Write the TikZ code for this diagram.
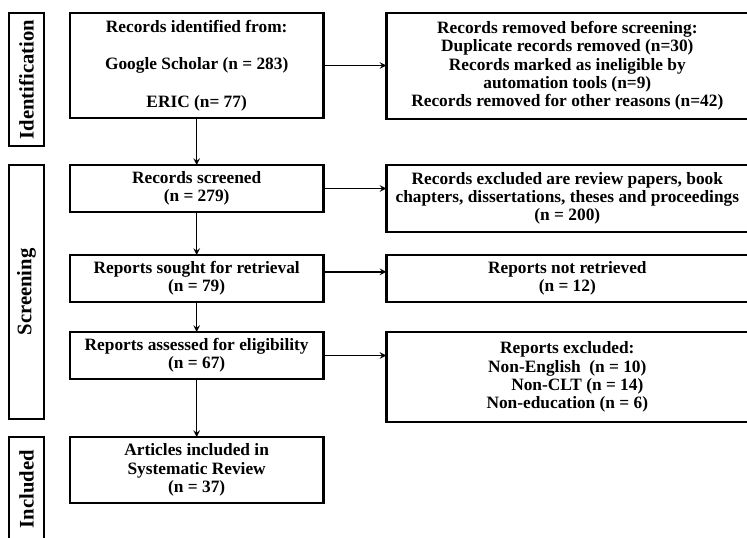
\documentclass[tikz,border=0pt]{standalone}
\usepackage{fontspec}
\setmainfont{Liberation Serif}
\usepackage{graphicx}
\usetikzlibrary{arrows,positioning}
\tikzstyle{process} = [rectangle, minimum width=190pt, minimum height=35.25pt, inner sep=0pt, outer sep=0pt, align=center, draw=black, line width=2pt, font=\fontsize{13}{13.7}\selectfont\bfseries]
\tikzstyle{removal} = [process, minimum width=271.5pt]
\tikzstyle{stage} = [rectangle, minimum width=26.25pt, inner sep=0pt, outer sep=0pt, draw=black, line width=2pt, font=\fontsize{15.5}{17}\selectfont\bfseries]
\tikzstyle{arrow} = [line width=1.2pt,->,>=stealth]

\begin{document}
\begin{tikzpicture}[x=0.75pt, y=-0.75pt, node distance=47.25pt]
   \useasboundingbox (0,0) rectangle (747,537);
   \node (ident) [process, minimum height=78.75pt, anchor=north west] at (70,13) {Records identified  from:\\[14.5pt]Google Scholar (n = 283)\\[14.5pt]ERIC (n= 77)};
   \node (screened) [process, below=35.25pt of ident] {Records screened\\(n = 279)};
   \node (sought) [process, below=32.25pt of screened] {Reports sought for retrieval\\(n = 79)};
   \node (assessed) [process, below=22.5pt of sought] {Reports assessed for eligibility\\(n = 67)};
   \node (included) [process, minimum height=49.5pt, below=43.5pt of assessed] {Articles included in\\Systematic Review\\(n = 37)};
   \node (removed) [removal, minimum height=79.5pt, right=of ident.north east, anchor=north west] {Records removed before screening:\\Duplicate records removed (n=30)\\Records marked as ineligible by\\automation tools (n=9)\\Records removed for other reasons (n=42)};
   \node (excluded) [removal, minimum height=50.25pt, right=of screened.north east, anchor=north west] {Records excluded are review papers, book\\chapters, dissertations, theses and proceedings\\(n = 200)};
   \node (notretrieved) [removal, right=of sought.north east, anchor=north west] {Reports not retrieved\\(n = 12)};
   \node (repexcluded) [removal, minimum height=67.5pt, right=of assessed.north east, anchor=north west] {Reports excluded:\\Non-English~ (n = 10)\\\hspace*{15pt}Non-CLT (n = 14)\\Non-education (n = 6)};
   \node (identification) [stage, minimum height=99.75pt, left=19.5pt of ident.north west, anchor=north east] {\rotatebox{90}{Identification}};
   \node (screening) [stage, minimum height=190.5pt, left=19.5pt of screened.north west, anchor=north east] {\rotatebox{90}{Screening}};
   \node (inclusion) [stage, minimum height=78pt, left=19.5pt of included.north west, anchor=north east] {\rotatebox{90}{Included}};
   \draw [arrow] (ident) -- (screened);
   \draw [arrow] (screened) -- (sought);
   \draw [arrow] (sought) -- (assessed);
   \draw [arrow] (assessed) -- (included);
   \draw [arrow] (ident.east) -- (ident.east -| removed.west);
   \draw [arrow] (screened.east) -- (screened.east -| excluded.west);
   \draw [arrow] ([yshift=5pt]sought.east) -- ([yshift=5pt]sought.east -| notretrieved.west);
   \draw [arrow] (assessed.east) -- (assessed.east -| repexcluded.west);
\end{tikzpicture}
\end{document}
